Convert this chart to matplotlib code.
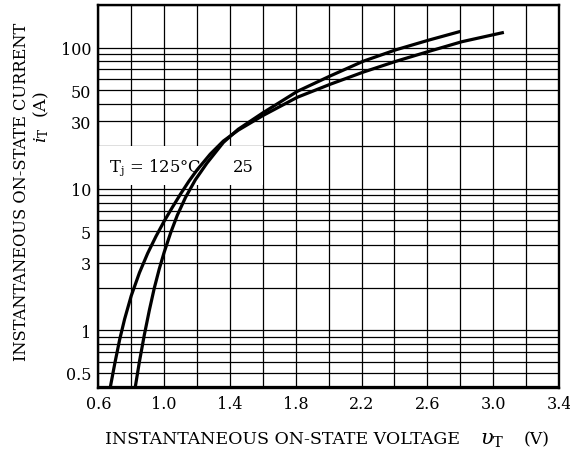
import matplotlib
matplotlib.use("Agg")
import matplotlib.pyplot as plt
from matplotlib.patches import Rectangle
from matplotlib.ticker import FixedLocator, NullFormatter, LogLocator

plt.rcParams['font.family'] = ['DejaVu Serif']
plt.rcParams['mathtext.fontset'] = 'dejavuserif'

# Tj = 125 C curve (V, A)
v_125 = [0.671, 0.70, 0.73, 0.76, 0.80, 0.85, 0.90, 0.95, 1.00, 1.05, 1.10,
         1.15, 1.20, 1.28, 1.36, 1.45, 1.60, 1.81, 2.01, 2.21, 2.41, 2.61,
         2.81, 3.065]
i_125 = [0.384, 0.58, 0.86, 1.2, 1.75, 2.55, 3.5, 4.6, 5.9, 7.4, 9.2,
         11.3, 13.6, 17.6, 21.8, 26.0, 33.0, 44.5, 55.0, 67.0, 80.0, 94.0,
         110, 128]

# Tj = 25 C curve (V, A)
v_25 = [0.823, 0.85, 0.88, 0.91, 0.94, 0.97, 1.00, 1.04, 1.08, 1.13, 1.19,
        1.26, 1.36, 1.45, 1.60, 1.81, 2.01, 2.21, 2.41, 2.61, 2.80]
i_25 = [0.385, 0.60, 0.93, 1.38, 1.98, 2.7, 3.55, 4.9, 6.5, 8.7, 11.6,
        15.2, 21.3, 26.4, 34.5, 49.0, 63.0, 80.0, 96.5, 113, 130]

x_ticks = [0.6, 1.0, 1.4, 1.8, 2.2, 2.6, 3.0, 3.4]
x_grid = [0.6 + 0.2 * k for k in range(15)]
y_ticks = [0.5, 1, 3, 5, 10, 30, 50, 100]
y_tick_labels = ['0.5', '1', '3', '5', '10', '30', '50', '100']

fig = plt.figure(figsize=(5.7, 4.56), dpi=100)
ax = fig.add_axes([98.3 / 570, 1 - 389 / 456, (559 - 98.3) / 570, (389 - 6) / 456])
ax.set_yscale('log')
ax.set_xlim(0.6, 3.4)
ax.set_ylim(0.39, 200)

ax.set_xticks(x_ticks)
ax.set_xticklabels([f'{t:.1f}' for t in x_ticks])
ax.xaxis.set_minor_locator(FixedLocator(x_grid))
ax.set_yticks(y_ticks)
ax.set_yticklabels(y_tick_labels)
ax.yaxis.set_minor_locator(LogLocator(base=10, subs=range(1, 10), numticks=50))
ax.yaxis.set_minor_formatter(NullFormatter())
ax.tick_params(which='both', length=0, labelsize=11.5, colors='black', pad=5)
ax.set_axisbelow(True)
ax.grid(True, which='both', color='black', linewidth=0.9)
for s in ax.spines.values():
    s.set_linewidth(1.7)

ax.add_patch(Rectangle((0.6, 10.6), 1.0, 20 - 10.6, facecolor='white',
                       edgecolor='none', zorder=1))

ax.plot(v_125, i_125, color='black', linewidth=2.3, zorder=2,
        solid_joinstyle='round', solid_capstyle='butt')
ax.plot(v_25, i_25, color='black', linewidth=2.3, zorder=2,
        solid_joinstyle='round', solid_capstyle='butt')

ax.text(0.666, 14.3, r'T$_\mathrm{j}$ = 125°C', fontsize=11.8, va='center', ha='left', zorder=3)
ax.text(1.479, 14.3, '25', fontsize=11.8, va='center', ha='center', zorder=3)

fig.text(105 / 570, 1 - 440 / 456, 'INSTANTANEOUS ON-STATE VOLTAGE', fontsize=12.5,
         ha='left', va='center')
fig.text(480 / 570, 1 - 441 / 456, r'$\mathit{\upsilon}_\mathrm{T}$', fontsize=15,
         ha='left', va='center')
fig.text(524 / 570, 1 - 440 / 456, '(V)', fontsize=12.5, ha='left', va='center')

fig.text(22 / 570, 1 - 192 / 456, 'INSTANTANEOUS ON-STATE CURRENT', fontsize=11.7,
         rotation=90, ha='center', va='center')
fig.text(41 / 570, 1 - 117 / 456, r'$i_\mathrm{T}$  (A)', fontsize=12.5,
         rotation=90, ha='center', va='center')

fig.savefig('out.png', dpi=100)
